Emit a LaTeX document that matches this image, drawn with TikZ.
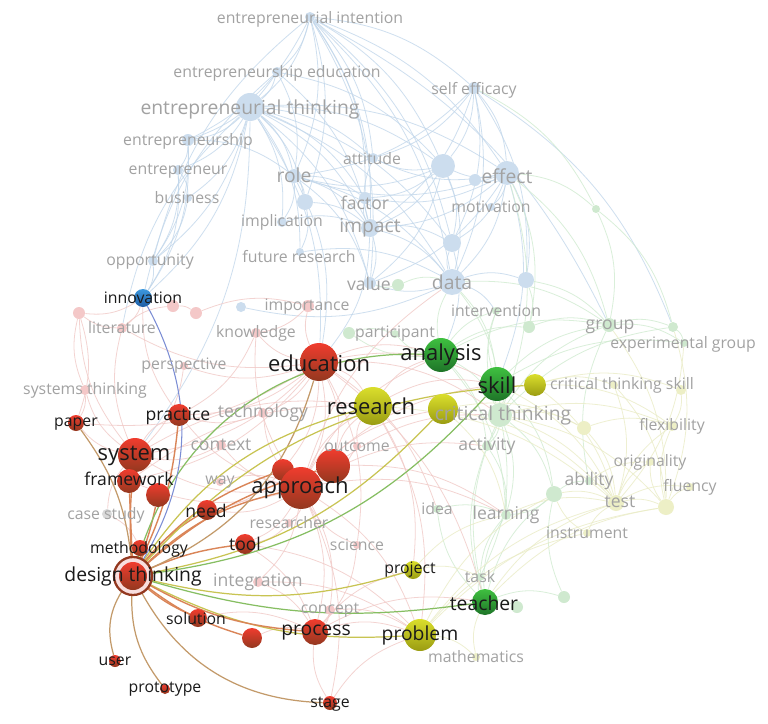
\documentclass[tikz,border=0pt]{standalone}
\usepackage{fontspec}
\setmainfont{Open Sans}
\usepackage{tikz}
\usetikzlibrary{backgrounds}
\definecolor{blueF}{HTML}{CCDDEE}
\definecolor{redF}{HTML}{F4C8C8}
\definecolor{greenF}{HTML}{CFE9CF}
\definecolor{yellowF}{HTML}{EDEFC6}
\definecolor{lineB}{HTML}{C2D7EB}
\definecolor{lineR}{HTML}{F1C9C6}
\definecolor{lineG}{HTML}{D0EBD0}
\definecolor{lineY}{HTML}{EAECC6}
\definecolor{hotR}{HTML}{F03C2E}
\definecolor{hotRd}{HTML}{93381F}
\definecolor{hotG}{HTML}{3FC040}
\definecolor{hotGd}{HTML}{1E7428}
\definecolor{hotY}{HTML}{DADE2C}
\definecolor{hotYd}{HTML}{9A9C12}
\definecolor{hotB}{HTML}{3D98DE}
\definecolor{hotBd}{HTML}{1D5CA4}
\definecolor{hlOrange}{HTML}{DA8558}
\definecolor{hlBrown}{HTML}{C39A6A}
\definecolor{hlYellow}{HTML}{C8C452}
\definecolor{hlGreen}{HTML}{86BE62}
\definecolor{hlBlue}{HTML}{7B8DD4}
\definecolor{dimtext}{HTML}{A2A2A2}
\definecolor{darktext}{HTML}{1A1A1A}
\pgfdeclarelayer{paper}
\pgfdeclarelayer{faint}
\pgfdeclarelayer{hilite}
\pgfsetlayers{paper,faint,hilite,main}
\tikzset{
  kw/.style={circle,inner sep=0pt,minimum size=#1*0.04cm},
  fb/.style={kw=#1,fill=blueF},
  fr/.style={kw=#1,fill=redF},
  fg/.style={kw=#1,fill=greenF},
  fy/.style={kw=#1,fill=yellowF},
  hr/.style={kw=#1,top color=hotR,bottom color=hotRd},
  hg/.style={kw=#1,top color=hotG,bottom color=hotGd},
  hy/.style={kw=#1,top color=hotY,bottom color=hotYd},
  hb/.style={kw=#1,top color=hotB,bottom color=hotBd},
  txt/.style={inner sep=0pt,text=dimtext},
  tdark/.style={inner sep=0pt,text=darktext},
  fxl/.style={font=\fontsize{12.5}{13}\selectfont},
  fl/.style={font=\fontsize{11}{12}\selectfont},
  fm/.style={font=\fontsize{10}{11}\selectfont},
  fs/.style={font=\fontsize{9}{10}\selectfont},
  lnb/.style={draw=lineB,line width=0.45pt,opacity=0.8},
  lnr/.style={draw=lineR,line width=0.45pt,opacity=0.8},
  lng/.style={draw=lineG,line width=0.45pt,opacity=0.8},
  lny/.style={draw=lineY,line width=0.45pt,opacity=0.8},
  hlo/.style={draw=hlOrange,line width=0.8pt},
  hlb/.style={draw=hlBrown,line width=0.7pt},
  hly/.style={draw=hlYellow,line width=0.7pt},
  hlg/.style={draw=hlGreen,line width=0.7pt},
  hlu/.style={draw=hlBlue,line width=0.6pt},
}
\begin{document}
\begin{tikzpicture}[x=0.02cm,y=-0.02cm]
  \begin{pgfonlayer}{paper}
  \fill[white] (0,0) rectangle (768,724);
  \end{pgfonlayer}
  \useasboundingbox (0,0) rectangle (768,724);

  % entrepreneurship cluster
  \node[fb=5] (eint) at (310,17) {};
  \node[fb=5] (eedu) at (277,72) {};
  \node[fb=14] (ethink) at (250,107) {};
  \node[fb=6] (eship) at (188,140) {};
  \node[fb=5] (eneur) at (178,170) {};
  \node[fb=4] (business) at (188,198) {};
  \node[fb=7] (role) at (294,176) {};
  \node[fb=8] (bA) at (305,202) {};
  \node[fb=5] (attitude) at (373,158) {};
  \node[fb=6] (factor) at (365,198) {};
  \node[fb=9] (impact) at (370,228) {};
  \node[fb=5] (implic) at (282,222) {};
  \node[fb=4] (fres) at (300,252) {};
  \node[fb=6] (value) at (370,283) {};
  \node[fb=13] (data) at (452,282) {};
  \node[fb=12] (effect) at (507,173) {};
  \node[fb=12] (bB) at (443,166) {};
  \node[fb=6] (bC) at (475,180) {};
  \node[fb=6] (selfeff) at (474,88) {};
  \node[fb=4] (motiv) at (491,207) {};
  \node[fb=9] (bD) at (452,243) {};
  \node[fb=8] (bE) at (526,280) {};
  \node[fb=5] (opport) at (153,261) {};
  \node[fb=5] (bF) at (241,307) {};

  % faint red cluster
  \node[fr=6] (import) at (308,306) {};
  \node[fr=5] (knowl) at (256,333) {};
  \node[fr=5] (liter) at (122,328) {};
  \node[fr=6] (rA) at (79,313) {};
  \node[fr=6] (rB) at (173,306) {};
  \node[fr=6] (rC) at (196,313) {};
  \node[fr=4] (persp) at (184,366) {};
  \node[fr=5] (systh) at (85,390) {};
  \node[fr=5] (techn) at (263,413) {};
  \node[fr=5] (context) at (221,445) {};
  \node[fr=4] (way) at (220,482) {};
  \node[fr=5,fill=black!15] (casest) at (107,514) {};
  \node[fr=4] (resear) at (289,523) {};
  \node[fr=4] (science) at (357,545) {};
  \node[fr=5] (integ) at (258,582) {};
  \node[fr=5] (concept) at (330,610) {};
  \node[fr=4] (outcome) at (357,446) {};

  % faint green / yellow cluster
  \node[fg=4] (gA) at (596,209) {};
  \node[fg=6] (gB) at (398,285) {};
  \node[fg=4] (partic) at (395,334) {};
  \node[fg=6] (gC) at (349,333) {};
  \node[fg=4] (interv) at (496,311) {};
  \node[fg=6] (gD) at (529,327) {};
  \node[fg=7] (group) at (609,325) {};
  \node[fg=5] (gE) at (673,327) {};
  \node[fg=4] (expg) at (684,343) {};
  \node[fg=12] (ctl) at (500,415) {};
  \node[fg=5] (activity) at (487,446) {};
  \node[fg=8] (gF) at (554,494) {};
  \node[fg=4] (ability) at (589,481) {};
  \node[fg=5] (learning) at (506,515) {};
  \node[fg=4] (idea) at (437,509) {};
  \node[fg=4] (task) at (480,577) {};
  \node[fg=6] (gG) at (564,597) {};
  \node[fg=6] (gH) at (517,607) {};
  \node[fy=4] (ctsl) at (614,385) {};
  \node[fy=5] (yA) at (681,390) {};
  \node[fy=5] (flex) at (672,426) {};
  \node[fy=4] (orig) at (650,462) {};
  \node[fy=8] (test) at (616,503) {};
  \node[fy=4] (fluency) at (690,487) {};
  \node[fy=8] (yB) at (666,507) {};
  \node[fy=4] (instr) at (587,533) {};
  \node[fy=4] (math) at (476,657) {};
  \node[fy=7] (yC) at (584,428) {};

  % highlighted keywords
  \node[hb=9] (innov) at (143,298) {};
  \node[hr=19] (education) at (319,362) {};
  \node[hr=17] (rH1) at (333,466) {};
  \node[hr=11] (rH2) at (283,470) {};
  \node[hr=21] (approach) at (301,488) {};
  \node[hr=11] (practice) at (179,415) {};
  \node[hr=8] (paper) at (76,423) {};
  \node[hr=17] (system) at (135,455) {};
  \node[hr=12] (rH3) at (158,495) {};
  \node[hr=12] (framework) at (129,481) {};
  \node[hr=10] (need) at (207,510) {};
  \node[hr=10] (tool) at (245,544) {};
  \node[hr=8] (method) at (140,548) {};
  \node[hr=9] (solution) at (198,618) {};
  \node[hr=10] (rH4) at (252,638) {};
  \node[hr=13] (process) at (315,632) {};
  \node[hr=6] (user) at (115,661) {};
  \node[hr=5] (proto) at (165,689) {};
  \node[hr=7] (stage) at (330,703) {};
  \node[hg=17] (analysis) at (441,355) {};
  \node[hg=17] (skill) at (497,384) {};
  \node[hg=13] (teacher) at (485,602) {};
  \node[hy=19] (research) at (373,406) {};
  \node[hy=15] (ctH) at (443,409) {};
  \node[hy=11] (ctskill) at (535,385) {};
  \node[hy=9] (project) at (413,570) {};
  \node[hy=16] (problem) at (420,635) {};
  \node[kw=19,draw=hotRd,line width=1.3pt,fill=redF!60] (dtring) at (133,576) {};
  \node[hr=14] (dt) at (133,576) {};

  % labels
  \node[txt,fs] (eint-t) at (310,19) {entrepreneurial intention};
  \node[txt,fs] (eedu-t) at (277,73) {entrepreneurship education};
  \node[txt,fl] (ethink-t) at (250,109) {entrepreneurial thinking};
  \node[txt,fs] (eship-t) at (188,141) {entrepreneurship};
  \node[txt,fs] (eneur-t) at (178,171) {entrepreneur};
  \node[txt,fs] (business-t) at (187,198) {business};
  \node[txt,fl] (role-t) at (294,175) {role};
  \node[txt,fs] (attitude-t) at (372,159) {attitude};
  \node[txt,fm] (factor-t) at (365,203) {factor};
  \node[txt,fl] (impact-t) at (370,228) {impact};
  \node[txt,fs] (implic-t) at (282,222) {implication};
  \node[txt,fs] (fres-t) at (299,257) {future research};
  \node[txt,fm] (value-t) at (369,284) {value};
  \node[txt,fl] (data-t) at (452,282) {data};
  \node[txt,fl] (effect-t) at (507,176) {effect};
  \node[txt,fs] (selfeff-t) at (474,90) {self efficacy};
  \node[txt,fs] (motiv-t) at (491,207) {motivation};
  \node[txt,fs] (opport-t) at (150,262) {opportunity};
  \node[txt,fs] (import-t) at (307,307) {importance};
  \node[txt,fs] (knowl-t) at (256,333) {knowledge};
  \node[txt,fs] (liter-t) at (122,328) {literature};
  \node[txt,fs] (persp-t) at (184,366) {perspective};
  \node[txt,fs] (systh-t) at (85,390) {systems thinking};
  \node[txt,fm] (techn-t) at (263,413) {technology};
  \node[txt,fm] (context-t) at (221,445) {context};
  \node[txt,fs] (way-t) at (220,482) {way};
  \node[txt,fs] (casest-t) at (106,515) {case study};
  \node[txt,fs] (resear-t) at (289,523) {researcher};
  \node[txt,fs] (science-t) at (357,545) {science};
  \node[txt,fm] (integ-t) at (258,582) {integration};
  \node[txt,fs] (concept-t) at (330,610) {concept};
  \node[txt,fs] (outcome-t) at (357,446) {outcome};
  \node[txt,fs] (partic-t) at (395,334) {participant};
  \node[txt,fs] (interv-t) at (496,311) {intervention};
  \node[txt,fm] (group-t) at (610,327) {group};
  \node[txt,fs] (expg-t) at (683,344) {experimental group};
  \node[txt,fs] (ctsl-t) at (622,385) {critical thinking skill};
  \node[txt,fl] (ctl-t) at (503,415) {critical thinking};
  \node[txt,fm] (activity-t) at (487,446) {activity};
  \node[txt,fs] (flex-t) at (672,426) {flexibility};
  \node[txt,fs] (orig-t) at (650,462) {originality};
  \node[txt,fm] (ability-t) at (589,481) {ability};
  \node[txt,fm] (test-t) at (620,502) {test};
  \node[txt,fs] (fluency-t) at (690,487) {fluency};
  \node[txt,fm] (learning-t) at (506,515) {learning};
  \node[txt,fs] (instr-t) at (587,533) {instrument};
  \node[txt,fs] (idea-t) at (437,509) {idea};
  \node[txt,fs] (task-t) at (480,577) {task};
  \node[txt,fs] (math-t) at (476,657) {mathematics};
  \node[tdark,fs] (innov-t) at (143,298) {innovation};
  \node[tdark,fxl] (education-t) at (319,363) {education};
  \node[tdark,fxl] (approach-t) at (300,488) {approach};
  \node[tdark,fm] (practice-t) at (178,416) {practice};
  \node[tdark,fs] (paper-t) at (76,424) {paper};
  \node[tdark,fxl] (system-t) at (134,456) {system};
  \node[tdark,fm] (framework-t) at (129,479) {framework};
  \node[tdark,fm] (need-t) at (206,511) {need};
  \node[tdark,fm] (tool-t) at (245,544) {tool};
  \node[tdark,fs] (method-t) at (139,549) {methodology};
  \node[tdark,fl] (dt-t) at (133,576) {design thinking};
  \node[tdark,fs] (solution-t) at (196,619) {solution};
  \node[tdark,fl] (process-t) at (316,633) {process};
  \node[tdark,fs] (user-t) at (115,661) {user};
  \node[tdark,fs] (proto-t) at (165,689) {prototype};
  \node[tdark,fs] (stage-t) at (330,704) {stage};
  \node[tdark,fxl] (analysis-t) at (441,355) {analysis};
  \node[tdark,fxl] (skill-t) at (497,385) {skill};
  \node[tdark,fl] (teacher-t) at (484,603) {teacher};
  \node[tdark,fxl] (research-t) at (371,406) {research};
  \node[tdark,fs] (project-t) at (410,570) {project};
  \node[tdark,fl] (problem-t) at (420,635) {problem};

  % faint co-occurrence links
  \begin{pgfonlayer}{faint}
  \foreach \a/\b in {eint/ethink,eint/eedu,eint/role,eint/bB,eint/effect,eint/selfeff,eint/attitude,eint/impact,eint/factor,eint/eship,eint/data,eint/bA,eint/value,eint/bD,
    eedu/ethink,eedu/eship,eedu/role,eedu/impact,eedu/bB,ethink/eship,ethink/eneur,ethink/business,ethink/role,ethink/bA,ethink/impact,ethink/implic,ethink/opport,ethink/bB,ethink/effect,ethink/data,ethink/factor,ethink/value,ethink/fres,ethink/attitude,ethink/innov,ethink/bD,
    eship/eneur,eship/opport,eship/role,eneur/opport,eneur/business,business/opport,
    selfeff/bB,selfeff/effect,selfeff/data,selfeff/impact,selfeff/role,selfeff/bD,selfeff/attitude,selfeff/bE,
    effect/bB,effect/bC,effect/data,effect/impact,effect/role,effect/bD,effect/bE,effect/attitude,effect/factor,effect/value,effect/motiv,
    bB/data,bB/impact,bB/role,bB/attitude,bB/bD,bB/factor,bB/value,role/impact,role/factor,role/bA,role/data,role/implic,role/value,
    impact/data,impact/value,impact/factor,impact/bD,impact/attitude,data/value,data/bD,data/bE,data/interv,data/bF,bA/impact,bA/fres,implic/impact,fres/data,
    ethink/education,ethink/system,eship/innov,opport/innov,eneur/innov,role/education,impact/education,effect/skill,bD/analysis,
    opport/eint,innov/eedu,liter/ethink,selfeff/gE,eint/group}
    \draw[lnb] (\a) to[bend left=18] (\b);
  \foreach \a/\b in {data/group,effect/group,effect/gA,gA/group,gA/gE,bE/group,skill/group,analysis/group,ctl/group,ctl/gE,group/gE,group/expg,gE/expg,ctl/gF,ctl/activity,skill/gF,
    analysis/data,analysis/gC,analysis/partic,analysis/interv,analysis/gD,gD/group,ctl/learning,activity/learning,gF/learning,teacher/gF,teacher/gG,teacher/gH,teacher/task,teacher/learning,
    task/learning,idea/learning,analysis/ctl,skill/ctl,gB/data,gB/value,gC/partic,effect/gD,bE/gD,selfeff/gA,ctl/interv,skill/interv,gF/ability,ability/group,skill/expg,teacher/ctl,
    analysis/activity,gG/gF,teacher/idea,skill/activity,analysis/learning,ctl/task,teacher/activity,data/skill,data/ctl,effect/ctl}
    \draw[lng] (\a) to[bend left=18] (\b);
  \foreach \a/\b in {test/fluency,test/orig,test/flex,test/yB,yB/fluency,yB/orig,yB/flex,gF/test,ctl/test,ctl/yB,ctsl/yB,ctsl/test,ctskill/ctsl,ctskill/yA,yA/flex,skill/test,
    learning/test,instr/test,instr/gF,problem/test,teacher/test,problem/gF,problem/math,math/teacher,project/learning,project/task,ctl/yC,yC/test,yC/flex,ability/test,ability/orig,
    problem/yB,teacher/yB,ctH/yC,ctH/test,research/test,ctH/learning,problem/instr,ctskill/test,group/yB,gE/yB,expg/test,ctskill/flex,ctl/flex}
    \draw[lny] (\a) to[bend left=18] (\b);
  \foreach \a/\b in {education/approach,education/system,education/practice,education/knowl,education/import,education/liter,education/persp,education/techn,education/rH1,education/rH2,
    education/framework,education/paper,approach/system,approach/framework,approach/knowl,approach/context,approach/techn,approach/practice,approach/need,approach/tool,approach/process,
    approach/concept,approach/integ,approach/resear,system/practice,system/paper,system/liter,system/systh,system/rA,system/framework,liter/rA,liter/rB,rB/rC,rC/import,import/knowl,
    knowl/practice,persp/system,systh/paper,systh/rA,casest/system,casest/method,way/approach,context/system,techn/practice,resear/tool,science/approach,science/process,integ/process,
    concept/process,concept/problem,outcome/approach,outcome/research,rH1/research,rH2/need,tool/process,solution/process,rH4/process,stage/process,stage/problem,education/research,
    education/analysis,approach/research,approach/ctH,approach/problem,research/problem,process/problem,approach/data,practice/innov,innov/liter,innov/rA,rA/paper,
    education/skill,approach/skill,approach/analysis,research/skill,research/analysis,process/teacher,education/teacher,rH1/ctl,system/research,framework/research,education/ctl,
    approach/learning,approach/activity,education/idea,rH1/learning,process/project,research/project,tool/problem,education/science,approach/stage,integ/problem}
    \draw[lnr] (\a) to[bend left=18] (\b);
  \end{pgfonlayer}

  % links of design thinking
  \begin{pgfonlayer}{hilite}
  \draw[hlo] (dt) to[bend right=10] (practice);
  \draw[hlb] (dt) to[bend right=15] (paper);
  \draw[hlo] (dt) to[bend left=5] (system);
  \draw[hlo] (dt) to (framework);
  \draw[hlo] (dt) to[bend right=5] (rH3);
  \draw[hlo] (dt) to (method);
  \draw[hlo] (dt) to[bend left=10] (need);
  \draw[hlo] (dt) to[bend left=8] (tool);
  \draw[hlo] (dt) to[bend left=15] (approach);
  \draw[hlo] (dt) to[bend left=15] (rH2);
  \draw[hlo] (dt) to[bend left=12] (rH1);
  \draw[hlb] (dt) to[bend right=25] (education);
  \draw[hly] (dt) to[bend left=20] (research);
  \draw[hly] (dt) to[bend left=22] (ctskill);
  \draw[hlg] (dt) to[bend left=38] (analysis);
  \draw[hlg] (dt) to[bend right=20] (skill);
  \draw[hly] (dt) to[bend right=18] (ctH);
  \draw[hly] (dt) to[bend right=15] (project);
  \draw[hlg] (dt) to[bend right=12] (teacher);
  \draw[hly] (dt) to[bend right=15] (problem);
  \draw[hlo] (dt) to[bend right=12] (process);
  \draw[hlo] (dt) to[bend right=10] (rH4);
  \draw[hlo] (dt) to[bend right=8] (solution);
  \draw[hlb] (dt) to[bend right=30] (stage);
  \draw[hlb] (dt) to[bend right=25] (user);
  \draw[hlb] (dt) to[bend right=20] (proto);
  \draw[hlu] (dt) to[bend right=30] (innov);
  \end{pgfonlayer}
\end{tikzpicture}
\end{document}
